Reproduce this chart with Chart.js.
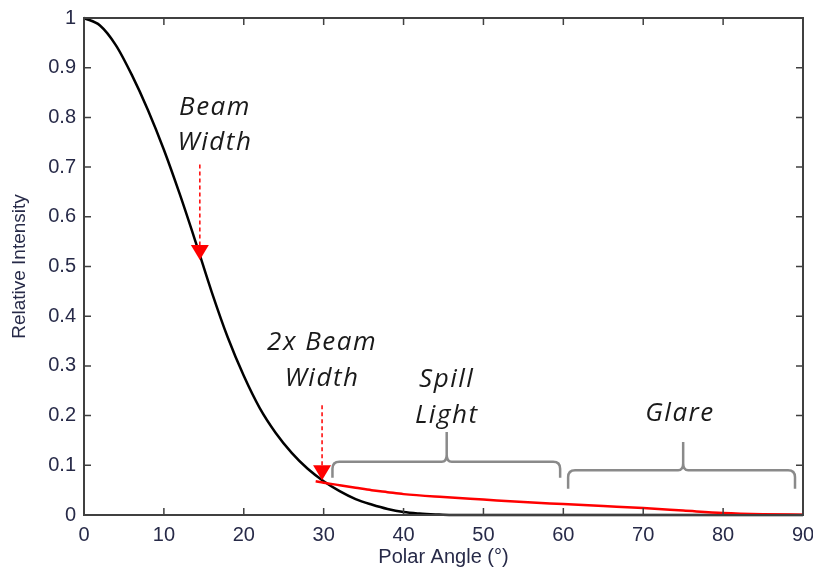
<!DOCTYPE html>
<html>
<head>
<meta charset="utf-8">
<script src="https://cdn.jsdelivr.net/npm/chart.js@4"></script>
<style>
  body { margin: 0; background: #fff; }
  #wrap { width: 813px; height: 570px; }
</style>
</head>
<body>
<div id="wrap"><canvas id="chart"></canvas></div>
<script>
const angle = [0, 2, 4, 6, 8, 10, 12, 14, 16, 18, 20, 22, 24, 26, 28, 30, 32, 34, 36, 38, 40, 42, 44, 46, 50, 60, 70, 80, 90];
const intensity = [1, 0.985, 0.945, 0.885, 0.815, 0.735, 0.645, 0.548, 0.448, 0.357, 0.28, 0.215, 0.165, 0.125, 0.093, 0.068, 0.048, 0.032, 0.021, 0.012, 0.006, 0.003, 0.0012, 0, 0, 0, 0, 0, 0];

const tailAngle = [29, 30, 32, 34, 36, 38, 40, 45, 50, 55, 60, 65, 70, 75, 80, 85, 90];
const tailIntensity = [0.068, 0.065, 0.06, 0.055, 0.05, 0.046, 0.042, 0.036, 0.031, 0.026, 0.022, 0.018, 0.014, 0.009, 0.004, 0.0015, 0.0005];

const xTicks = [0, 10, 20, 30, 40, 50, 60, 70, 80, 90];

const toPoints = (xs, ys) => xs.map((x, i) => ({ x: x, y: ys[i] }));

// annotation layout, in data units
const notes = {
  labels: [
    { text: 'Beam', x: 16.4, y: 0.819 },
    { text: 'Width', x: 16.4, y: 0.75 },
    { text: '2x Beam', x: 29.8, y: 0.346 },
    { text: 'Width', x: 29.8, y: 0.274 },
    { text: 'Spill', x: 45.4, y: 0.272 },
    { text: 'Light', x: 45.4, y: 0.201 },
    { text: 'Glare', x: 74.6, y: 0.205 }
  ],
  arrows: [
    { x: 14.5, from: 0.705, to: 0.513 },
    { x: 29.8, from: 0.221, to: 0.07 }
  ],
  braces: [
    { x0: 31.1, x1: 59.6, mid: 45.4, y: 0.107, end: 0.075, top: 0.167 },
    { x0: 60.6, x1: 89.0, mid: 75.0, y: 0.09, end: 0.053, top: 0.147 }
  ]
};

const tickColor = '#272a48';
const frameColor = '#404040';
const axisFont = { family: '"Liberation Sans", Arial', size: 20 };

const framePlugin = {
  id: 'frame',
  afterDraw(chart) {
    const ctx = chart.ctx;
    const a = chart.chartArea;
    const xs = chart.scales.x, ys = chart.scales.y;
    ctx.save();
    ctx.strokeStyle = frameColor;
    ctx.lineWidth = 2;
    ctx.strokeRect(a.left, a.top, a.right - a.left, a.bottom - a.top);
    ctx.lineWidth = 1.5;
    ctx.beginPath();
    xs.ticks.forEach(t => {
      const px = xs.getPixelForValue(t.value);
      ctx.moveTo(px, a.bottom); ctx.lineTo(px, a.bottom - 7);
      ctx.moveTo(px, a.top); ctx.lineTo(px, a.top + 7);
    });
    ys.ticks.forEach(t => {
      const py = ys.getPixelForValue(t.value);
      ctx.moveTo(a.left, py); ctx.lineTo(a.left + 7, py);
      ctx.moveTo(a.right, py); ctx.lineTo(a.right - 7, py);
    });
    ctx.stroke();
    ctx.restore();
  }
};

const notesPlugin = {
  id: 'notes',
  afterDatasetsDraw(chart) {
    const ctx = chart.ctx;
    const xs = chart.scales.x, ys = chart.scales.y;
    const X = v => xs.getPixelForValue(v), Y = v => ys.getPixelForValue(v);
    ctx.save();

    // red dashed arrows
    notes.arrows.forEach(ar => {
      const px = X(ar.x), tip = Y(ar.to);
      ctx.strokeStyle = '#ff0000';
      ctx.lineWidth = 1.5;
      ctx.setLineDash([4, 3]);
      ctx.beginPath();
      ctx.moveTo(px, Y(ar.from));
      ctx.lineTo(px, tip - 14);
      ctx.stroke();
      ctx.setLineDash([]);
      ctx.fillStyle = '#ff0000';
      ctx.beginPath();
      ctx.moveTo(px - 9, tip - 15);
      ctx.lineTo(px + 9, tip - 15);
      ctx.lineTo(px, tip);
      ctx.closePath();
      ctx.fill();
    });

    // grey braces
    ctx.strokeStyle = '#8a8a8a';
    ctx.lineWidth = 2.5;
    ctx.lineJoin = 'round';
    notes.braces.forEach(b => {
      const l = X(b.x0), r = X(b.x1), m = X(b.mid);
      const h = Y(b.y), e = Y(b.end), t = Y(b.top);
      ctx.beginPath();
      ctx.moveTo(l, e);
      ctx.lineTo(l, h + 7);
      ctx.quadraticCurveTo(l, h, l + 7, h);
      ctx.lineTo(m - 5, h);
      ctx.quadraticCurveTo(m, h, m, h - 7);
      ctx.lineTo(m, t);
      ctx.moveTo(m, h - 7);
      ctx.quadraticCurveTo(m, h, m + 5, h);
      ctx.lineTo(r - 7, h);
      ctx.quadraticCurveTo(r, h, r, h + 7);
      ctx.lineTo(r, e);
      ctx.stroke();
    });

    // italic labels
    ctx.fillStyle = '#1a1a1a';
    ctx.font = 'italic 26px "Open Sans"';
    ctx.letterSpacing = '1.5px';
    ctx.textAlign = 'center';
    ctx.textBaseline = 'middle';
    notes.labels.forEach(lb => ctx.fillText(lb.text, X(lb.x), Y(lb.y)));
    ctx.restore();
  }
};

const config = {
  type: 'scatter',
  data: {
    datasets: [
      {
        label: 'Spill / glare',
        data: toPoints(tailAngle, tailIntensity),
        showLine: true,
        borderColor: '#ff0000',
        borderWidth: 2.5,
        pointRadius: 0,
        cubicInterpolationMode: 'monotone',
        clip: 4,
        order: 0
      },
      {
        label: 'Relative intensity',
        data: toPoints(angle, intensity),
        showLine: true,
        borderColor: '#000000',
        borderWidth: 2.5,
        pointRadius: 0,
        cubicInterpolationMode: 'monotone',
        clip: 4,
        order: 1
      }
    ]
  },
  options: {
    responsive: true,
    maintainAspectRatio: false,
    animation: false,
    layout: { padding: { top: 18, right: 10, left: 0, bottom: 0 } },
    plugins: {
      legend: { display: false },
      tooltip: { enabled: false }
    },
    scales: {
      x: {
        type: 'linear',
        min: 0,
        max: 90,
        afterBuildTicks: s => { s.ticks = xTicks.map(v => ({ value: v })); },
        afterFit: s => { s.height = 55; s.paddingLeft = 0; s.paddingRight = 0; },
        ticks: { color: tickColor, font: axisFont, padding: 8 },
        grid: { drawOnChartArea: false, drawTicks: false },
        border: { display: false },
        title: {
          display: true,
          text: 'Polar Angle (°)',
          color: tickColor,
          font: axisFont,
          padding: { top: 0, bottom: 1 }
        }
      },
      y: {
        min: 0,
        max: 1,
        afterFit: s => { s.width = 84; s.paddingTop = 0; s.paddingBottom = 0; },
        ticks: {
          stepSize: 0.1,
          color: tickColor,
          font: axisFont,
          padding: 8,
          callback: v => String(+v.toFixed(1))
        },
        grid: { drawOnChartArea: false, drawTicks: false },
        border: { display: false },
        title: {
          display: true,
          text: 'Relative Intensity',
          color: tickColor,
          font: { family: '"Liberation Sans", Arial', size: 19 },
          padding: { top: 8, bottom: 0 }
        }
      }
    }
  },
  plugins: [framePlugin, notesPlugin]
};

const chart = new Chart(document.getElementById('chart'), config);
</script>
</body>
</html>
